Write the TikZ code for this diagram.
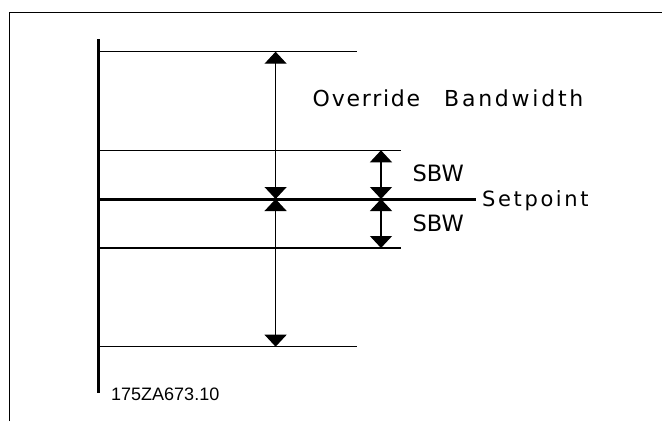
\documentclass[tikz,border=0pt]{standalone}
\usepackage{fontspec}
\setmainfont{DejaVu Sans}
\newfontfamily\cadwide[LetterSpace=12.5]{DejaVu Sans}
\newfontfamily\cadmid[LetterSpace=8]{DejaVu Sans}
\newfontfamily\cadcode{Liberation Sans}
\usepackage{tikz}
\usetikzlibrary{positioning,arrows.meta}

\tikzset{
  thinline/.style={line width=1.2pt},
  thickline/.style={line width=3pt},
  dimarrow/.style={line width=1.2pt,{Triangle[width=22pt,length=12pt]}-{Triangle[width=22pt,length=12pt]}},
  txt/.style={inner sep=0pt,anchor=base west}
}

\begin{document}
\begin{tikzpicture}[x=1pt,y=-1pt]
\useasboundingbox (0,0) rectangle (662,421);
% frame
\draw[line width=1.3pt] (9.3,421) -- (9.3,12.3) -- (662,12.3);
% axis
\coordinate (axtop) at (98.5,39);
\coordinate (axbot) at (98.5,393);
\draw[thickline] (axtop) -- (axbot);
% limit lines
\foreach \name/\y/\xend in {obwtop/51.7/357,sbwtop/150.3/401,sbwbot/248/401,obwbot/346.7/357} {
    \coordinate (\name) at (98.5,\y);
    \draw[thinline] (\name) -- (\xend,\y);
}
% setpoint
\coordinate (spstart) at (98.5,199);
\coordinate (spend) at (476,199);
\draw[thickline] (spstart) -- (spend);
\node at (482,206) [txt,font=\cadwide\fontsize{21}{21}\selectfont] (setpt) {Setpoint};
% arrows
\foreach \col/\x/\ya/\yb in {o/275.6/51.7/346.7,s/381/150.3/248} {
    \coordinate (\col up) at (\x,\ya);
    \coordinate (\col mid) at (\x,199);
    \coordinate (\col dn) at (\x,\yb);
    \draw[dimarrow] (\col up) -- (\col mid);
    \draw[dimarrow] (\col mid) -- (\col dn);
}
% labels
\node at (312.5,106) [txt,font=\cadwide\fontsize{22}{22}\selectfont] (obw) {{\cadmid Override}\hspace{24pt}Bandwidth};
\node at (412.5,181) [txt,font=\fontsize{22.5}{22.5}\selectfont] (sbwa) {SBW};
\node at (412.5,231) [txt,font=\fontsize{22.5}{22.5}\selectfont] (sbwb) {SBW};
\node at (111,400) [txt,font=\cadcode\fontsize{18}{18}\selectfont] (code) {175ZA673.10};
\end{tikzpicture}
\end{document}
